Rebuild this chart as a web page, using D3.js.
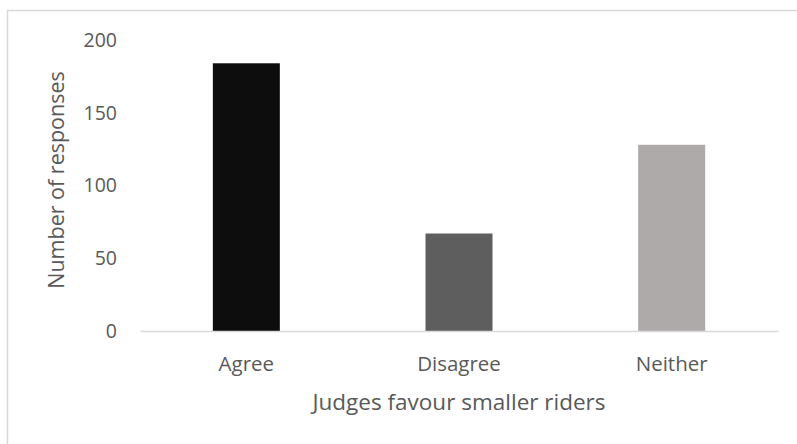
<!DOCTYPE html>
<html>
<head>
<meta charset="utf-8">
<script src="https://cdn.jsdelivr.net/npm/d3@7"></script>
<style>
  html, body { margin: 0; padding: 0; background: #fff; }
  svg { display: block; font-family: "Open Sans", sans-serif; }
</style>
</head>
<body>
<svg id="chart" width="797" height="444"></svg>
<script>
// Survey responses: "Judges favour smaller riders"
const categories = ["Agree", "Disagree", "Neither"];
const responses = [184, 67, 128];
const barColors = ["#0d0d0d", "#5e5e5e", "#aeaaaa"];
const yTicks = [0, 50, 100, 150, 200];
const xTitle = "Judges favour smaller riders";
const yTitle = "Number of responses";

const svg = d3.select("#chart");
const textColor = "#595959";
const plot = { left: 140, right: 778, top: 40, bottom: 331 };

// Chart area frame
svg.append("rect")
  .attr("x", 7.5).attr("y", 10.5)
  .attr("width", 800).attr("height", 450)
  .attr("fill", "#fff")
  .attr("stroke", "#d9d9d9")
  .attr("stroke-width", 1.5);

const x = d3.scaleBand()
  .domain(categories)
  .range([plot.left, plot.right])
  .paddingInner(0.685)
  .paddingOuter(0.3425);

const y = d3.scaleLinear()
  .domain([0, 200])
  .range([plot.bottom, plot.top]);

// Bars
svg.append("g").selectAll("rect")
  .data(categories)
  .join("rect")
  .attr("x", d => x(d))
  .attr("y", (d, i) => y(responses[i]))
  .attr("width", x.bandwidth())
  .attr("height", (d, i) => y(0) - y(responses[i]))
  .attr("fill", (d, i) => barColors[i]);

// Y axis labels (no line)
const yAxis = svg.append("g")
  .attr("transform", `translate(${plot.left},0)`)
  .call(d3.axisLeft(y).tickValues(yTicks).tickSize(0).tickPadding(23));
yAxis.select(".domain").remove();
yAxis.selectAll("text")
  .attr("fill", textColor)
  .style("font-size", "19.5px")
  .style("font-family", "'Open Sans', sans-serif");

// X axis baseline and category labels
const xAxis = svg.append("g")
  .attr("transform", `translate(0,${plot.bottom})`)
  .call(d3.axisBottom(x).tickSize(0));
xAxis.select(".domain")
  .attr("stroke", "#d9d9d9")
  .attr("stroke-width", 1.5);
xAxis.selectAll(".tick text")
  .attr("fill", textColor)
  .attr("dy", null)
  .attr("y", 370.7 - plot.bottom)
  .style("font-size", "20.5px")
  .style("font-family", "'Open Sans', sans-serif");

// Axis titles
svg.append("text")
  .attr("x", (plot.left + plot.right) / 2)
  .attr("y", 409.5)
  .attr("text-anchor", "middle")
  .attr("fill", textColor)
  .style("font-size", "22.5px")
  .text(xTitle);

svg.append("text")
  .attr("transform", "translate(63.5,180) rotate(-90)")
  .attr("text-anchor", "middle")
  .attr("fill", textColor)
  .style("font-size", "21.5px")
  .text(yTitle);
</script>
</body>
</html>
